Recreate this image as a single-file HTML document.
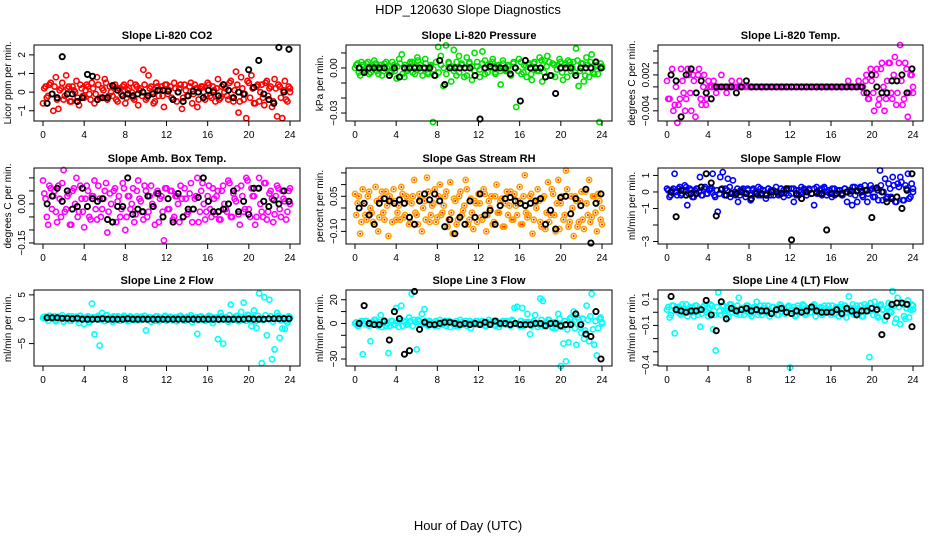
<!DOCTYPE html>
<html><head><meta charset="utf-8"><style>
html,body{margin:0;padding:0;background:#fff;}
svg{display:block;font-family:"Liberation Sans",Arial,sans-serif;}
</style></head><body>
<svg id="fig" width="936" height="540" viewBox="0 0 936 540">
<text x="468" y="14" text-anchor="middle" font-size="13">HDP_120630  Slope Diagnostics</text>
<text x="468" y="530" text-anchor="middle" font-size="13">Hour of Day (UTC)</text>
</svg>
<script>
const xTicks=[0,4,8,12,16,20,24];
const co2Color=[-0.6,0.3,-0.2,0.5,-1,0.8,-0.9,0.2,-0.4,0.9,0.3,-0.5,0.1,0.6,-0.7,0.2,-0.3,0.4,-0.1,0.5,-0.6,0.8,-0.3,0.2,0.7,-0.4,0.3,-0.2,0.4,-0.5,0.2,0.3,-0.6,0.1,0.5,-0.3,0.4,-0.7,0.2,1.2,-0.4,0.9,0.3,-0.6,0.5,-0.2,0.3,-0.8,0.4,0.1,-0.3,0.5,-0.5,0.2,-0.9,0.4,-0.2,0.3,-0.6,0.4,-0.8,0.2,0.3,-0.4,0.5,-0.2,0.3,-0.5,0.7,-0.3,0.4,0.2,-0.4,0.6,-0.5,1.1,-1.1,0.8,-0.4,-1.4,0.5,0.9,-0.6,0.3,-0.5,0.4,-0.7,0.6,0.2,-0.8,0.7,-1.3,0.3,-1.4,0.6,-0.5,0.2];
const co2Band=[0.2,-0.3,0.4,-0.1,0.3,-0.4,0.1,0.5,-0.2,0.2,-0.5,0.3,0,-0.3,0.4,-0.2,0.1,0.3,-0.4,0.2,-0.1,0.4,-0.3,0.1,0.5,-0.2,0,0.3,-0.4,0.2,-0.1,0.4,-0.3,0.2,0,-0.4,0.3,0.1,-0.2,0.4,-0.3,0.2,0,-0.5,0.3,0.1,-0.2,0.4,-0.1,0.3,-0.4,0.2,0,0.4,-0.3,0.1,-0.2,0.5,-0.1,0.2,-0.4,0.3,0,-0.2,0.4,-0.3,0.1,0.2,-0.4,0.3,0,-0.2,0.5,-0.3,0.1,0.4,-0.5,0.2,-0.1,0.6,-0.3,0.2,-0.6,0.4,0,-0.3,0.5,-0.2,0.3,-0.5,0.2,0.4,-0.3,0.1,-0.4,0.3,0];
const co2Black=[-0.6,-0.1,-0.3,1.9,-0.1,-0.1,-0.5,-0.3,0.95,0.85,-0.4,-0.3,-0.3,0.35,0.1,-0.2,-0.1,-0.2,-0.1,0,-0.2,-0.1,0.1,0.1,0.05,-0.4,0,-0.5,-0.2,0.05,0,-0.3,0.1,0,-0.2,0.4,0.1,-0.3,0,-0.1,1.2,0.25,1.7,-0.1,-0.4,-0.6,2.4,0,2.3];
const presColor=[0,0.003,-0.005,0.002,-0.002,0.004,-0.003,0.001,0.003,-0.004,0.002,-0.002,0.004,0.001,-0.003,0.002,-0.007,0.006,0.009,-0.006,-0.002,0.003,0.004,-0.004,0.007,0.002,-0.005,0.006,-0.003,0.001,-0.036,-0.005,0.014,0.008,-0.012,0.015,0.004,-0.009,0.012,-0.005,0.008,0.003,-0.006,0.007,0.004,-0.008,0.01,0.001,-0.006,0.011,0.005,-0.003,0.003,0.006,-0.004,0.002,-0.011,0.003,-0.002,0.001,-0.005,0.004,-0.026,0.006,-0.004,0.002,-0.006,0.003,-0.008,0.004,-0.002,0.007,-0.009,0.005,0.008,-0.005,0.003,-0.006,0.002,0.004,-0.008,0.003,0.005,-0.002,0.004,0.013,-0.012,0.003,-0.009,0.007,-0.006,0.009,-0.004,0.002,-0.036,0.001];
const presBand=[0.002,-0.003,0.004,-0.001,0.003,-0.004,0.001,0.005,-0.002,0.002,-0.005,0.003,0,-0.003,0.004,-0.002,0.001,0.003,-0.004,0.002,-0.001,0.004,-0.003,0.001,0.005,-0.002,0,0.003,-0.004,0.002,-0.001,0.004,-0.003,0.002,0,-0.004,0.003,0.001,-0.002,0.004,-0.003,0.002,0,-0.005,0.003,0.001,-0.002,0.004,-0.001,0.003,-0.004,0.002,0,0.004,-0.003,0.001,-0.002,0.005,-0.001,0.002,-0.004,0.003,0,-0.002,0.004,-0.003,0.001,0.002,-0.004,0.003,0,-0.002,0.005,-0.003,0.001,0.004,-0.005,0.002,-0.001,0.006,-0.003,0.002,-0.006,0.004,0,-0.003,0.005,-0.002,0.003,-0.005,0.002,0.004,-0.003,0.001,-0.004,0.003,0];
const presBlack=[0,-0.003,0,0,0,0,-0.005,0,-0.006,0,0,0,0,0,0,-0.005,0.005,-0.011,0,0,0,0,0,-0.005,-0.034,0,0.001,0,0,0,-0.004,0,-0.022,0.005,0,0,0,-0.006,-0.005,-0.017,0,0,0,-0.005,0,0,0,0.004,0];
const tempColor=[0.001,-0.002,0.003,-0.003,-0.006,-0.002,0.001,-0.004,0.003,-0.001,0.002,-0.005,0.002,-0.002,0,-0.003,0.001,0,0.001,-0.001,0,0.002,0,-0.001,0,0.001,0,0,0.001,0,0,0,0,0,0,0,0,0,0,0,0,0,0,0,0,0,0,0,0,0,0,0,0,0,0,0,0,0,0,0,0,0,0,0,0,0,0,0,0,0,0.001,0,0,0,0.001,0,-0.001,0.002,-0.002,0.001,-0.004,0.003,-0.002,0.004,-0.004,0.001,0.004,-0.002,0.005,-0.001,0.007,-0.003,0.004,-0.005,0.002,-0.001];
const tempBand=[-0.002,0.002,-0.004,0,-0.003,0.003,-0.001,-0.002,0.002,-0.004,0.001,-0.001,0.003,-0.003,0.002,-0.002,0,0,0,0,0,0,0,0,0,0,0,0,0,0,0,0,0,0,0,0,0,0,0,0,0,0,0,0,0,0,0,0,0,0,0,0,0,0,0,0,0,0,0,0,0,0,0,0,0,0,0,0,0,0,0,0,0,0,0,0,0,0.001,-0.002,0.003,-0.001,0.002,-0.003,0.003,0,-0.002,0.004,-0.001,0.002,-0.003,0.004,0.001,-0.002,0.003,-0.001,0.002,0];
const tempBlack=[0.002,0.001,-0.005,0.002,0.003,-0.001,0.001,-0.001,-0.002,0,0,0,0,-0.001,0,0.001,0,0,0,0,0,0,0,0,0,0,0,0,0,0,0,0,0,0,0,0,0,0,0,-0.001,0.002,0,-0.001,-0.001,0.001,0.001,0.002,-0.001,0.003];
const ambColor=[0.09,0.02,-0.08,0.06,0.03,-0.03,0.07,-0.05,0.13,-0.02,0.04,-0.08,0.06,0.1,-0.03,0.02,-0.09,0.07,-0.05,0.03,0.09,-0.06,0.02,-0.02,0.05,-0.11,0.04,-0.07,0.06,0.01,-0.05,0.08,-0.1,0.03,-0.02,0.06,-0.04,0.09,0.01,-0.06,0.05,-0.03,0.07,-0.01,0.04,-0.07,0.03,-0.14,0.06,-0.02,0.05,-0.05,0.03,-0.07,0.02,0.06,-0.04,0.04,-0.07,0.02,0.1,-0.03,0.08,-0.06,0.03,-0.02,0.06,-0.04,0.05,-0.06,0.07,-0.02,0.09,-0.05,0.04,0.01,-0.04,0.07,-0.03,0.1,-0.02,0.06,0.03,-0.05,0.1,-0.03,0.08,-0.06,0.04,0.02,-0.04,0.07,-0.02,0.05,0.01,-0.03,0.06];
const ambBand=[0.04,-0.05,0.07,-0.02,0.05,-0.07,0.02,0.08,-0.03,0.03,-0.08,0.05,0,-0.05,0.07,-0.03,0.02,0.05,-0.06,0.03,-0.02,0.07,-0.05,0.02,0.08,-0.03,0,0.05,-0.07,0.03,-0.02,0.06,-0.05,0.03,0,-0.07,0.05,0.02,-0.03,0.07,-0.05,0.03,0,-0.08,0.05,0.02,-0.03,0.06,-0.02,0.05,-0.06,0.03,0,0.07,-0.05,0.02,-0.03,0.08,-0.02,0.03,-0.07,0.05,0,-0.03,0.07,-0.05,0.02,0.03,-0.06,0.05,0,-0.03,0.08,-0.05,0.02,0.06,-0.08,0.03,-0.02,0.09,-0.05,0.03,-0.08,0.06,0,-0.05,0.08,-0.03,0.05,-0.07,0.03,0.06,-0.05,0.02,-0.06,0.05,0];
const ambBlack=[0,0.03,0.06,0.01,0.05,-0.02,-0.01,0.06,-0.01,0.02,0.01,0.02,-0.06,-0.07,-0.01,-0.01,0.1,-0.04,-0.02,-0.03,0.03,-0.01,0.04,-0.05,0.02,-0.07,0.04,-0.05,-0.02,-0.02,0.025,0.1,0.01,-0.03,-0.03,-0.02,0,0.05,-0.03,0.01,-0.04,0.06,0.06,0.01,-0.01,0.015,0,0.05,0.01];
const rhColor=[0.06,0.02,-0.11,0.08,-0.03,0.05,0,-0.06,0.09,-0.1,0.04,-0.02,0.07,-0.12,0.03,0.08,-0.05,0.01,0.09,-0.04,0.05,-0.07,0.02,0.12,-0.03,0.06,-0.1,0.03,0.13,-0.06,0.01,0.08,-0.04,0.1,-0.02,0.05,-0.08,0.11,-0.11,0.03,-0.05,0.07,-0.01,0.12,-0.07,0.04,-0.09,0.02,0.06,-0.04,0.08,-0.1,0.03,0.05,-0.06,0.1,-0.02,0.04,-0.08,0.07,0.01,-0.05,0.06,-0.03,0.09,-0.07,0.14,-0.04,0.05,-0.11,0.02,0.08,-0.06,0.04,-0.09,0.11,-0.03,0.06,-0.1,0.12,0.02,-0.05,0.16,-0.08,0.05,-0.12,0.03,-0.06,0.07,-0.09,0.02,0.12,-0.04,0.05,-0.1,0.03,-0.07];
const rhBand=[-0.03,0.05,-0.06,0.02,-0.05,0.07,-0.02,-0.07,0.03,-0.04,0.07,-0.05,0.01,0.05,-0.06,0.03,-0.02,-0.05,0.06,-0.03,0.03,-0.06,0.05,-0.02,-0.07,0.04,0,-0.05,0.07,-0.03,0.02,-0.06,0.05,-0.03,0.01,0.07,-0.05,-0.02,0.04,-0.07,0.05,-0.03,0.01,0.08,-0.05,-0.02,0.03,-0.06,0.02,-0.05,0.06,-0.03,0,-0.07,0.05,-0.02,0.03,-0.08,0.02,-0.03,0.07,-0.05,0.01,0.03,-0.07,0.05,-0.02,-0.03,0.06,-0.05,0,0.03,-0.08,0.05,-0.02,-0.06,0.08,-0.03,0.02,-0.09,0.05,-0.03,0.08,-0.06,0,0.05,-0.08,0.03,-0.05,0.07,-0.03,-0.06,0.05,-0.02,0.06,-0.05,0];
const rhBlack=[0,0.02,-0.03,-0.07,0.02,0.04,0.03,0.02,0.035,0.02,-0.04,-0.07,0.03,0.06,0.035,0.06,0.03,-0.08,-0.05,-0.11,-0.04,-0.07,0.03,-0.04,0.06,-0.03,-0.01,-0.07,0.01,0.04,0.045,0.03,0.02,0.01,0.02,0.03,0.04,-0.07,-0.01,-0.09,0.045,0.05,-0.025,0.04,0.01,0.08,-0.15,0.02,0.06];
const flowColor=[0.2,-0.3,0.1,1.1,-0.2,0.3,-0.1,0.4,-0.8,0.2,-0.3,0.1,0.2,0.9,-0.2,0.3,-0.1,0.2,1.1,-0.3,-1.2,0.9,1.2,0.2,0.8,-0.3,0.7,-0.2,-0.6,0.1,0.2,-0.3,0.1,-0.5,0.2,-0.1,0.3,-0.2,0.1,-0.4,0.2,0.1,-0.2,0.3,-0.1,0.2,-0.3,0.1,-0.2,0.2,-0.6,0.1,-0.2,0.3,0.1,-0.2,0.2,-0.1,-0.8,0.3,-0.1,0.2,0.3,-0.2,0.1,-0.3,0.2,-0.1,0.1,-0.2,0.2,-0.6,0.1,-0.8,0.3,-0.6,0.2,-0.2,0.4,-0.6,0.1,0.2,-0.3,0.1,1.3,-0.5,0.8,-0.3,0.2,0.9,-0.6,0.5,0.9,-0.5,0.4,1.1,-0.3,0.2];
const flowBand=[0.1,-0.2,0.2,0,0.2,-0.2,0.1,0.3,-0.1,0.1,-0.3,0.2,0,-0.2,0.2,-0.1,0.1,0.2,-0.2,0.1,-0.1,0.2,-0.2,0.1,0.3,-0.1,0,0.2,-0.2,0.1,-0.1,0.2,-0.2,0.1,0,-0.2,0.2,0.1,-0.1,0.2,-0.2,0.1,0,-0.2,0.2,0.1,-0.1,0.2,-0.1,0.2,-0.2,0.1,0,0.2,-0.2,0.1,-0.1,0.2,-0.1,0.1,-0.2,0.2,0,-0.1,0.2,-0.2,0.1,0.1,-0.2,0.2,0,-0.1,0.3,-0.2,0.1,0.3,-0.3,0.1,-0.1,0.4,-0.3,0.2,-0.5,0.4,0,-0.4,0.5,-0.3,0.4,-0.6,0.3,0.6,-0.5,0.2,-0.4,0.5,0];
const flowBlack=[0,-1.5,0.1,-0.2,-0.1,-0.1,0.3,1.1,0.55,-1.45,0.15,-0.2,-0.1,-0.1,0,-0.1,-0.4,-0.1,-0.1,-0.2,0,0,-0.1,0.2,-2.9,-0.1,-0.4,0,-0.1,0,-0.1,-2.3,-0.1,-0.1,-0.1,0,0.05,0.05,0.05,0.1,-1.55,0.25,0,-0.6,-0.4,-0.3,-1.0,0.1,1.1];
const line2Color=[0.3,0.5,-0.3,0.6,0.2,-0.4,0.5,0.3,-0.5,0.4,0.6,-0.3,0.2,0.5,-0.8,0.3,-1,0.4,-0.6,3.2,-3.1,0.5,-5.4,1.3,-0.4,0.8,0.2,-0.5,0.4,0.6,-0.3,0.5,0.2,-0.4,0.6,0.3,0.2,-0.2,0.5,0.3,-2.3,0.4,-0.5,0.3,0.6,-0.4,0.2,0.5,-0.3,0.4,0.1,0.3,-0.4,0.6,0.2,-0.3,0.5,0.4,-0.6,0.3,-3,0.5,0.2,-0.3,0.4,0.6,-0.8,0.2,-4.1,1.3,-5,0.4,-0.5,3,0.3,0.6,-0.4,1.5,3.4,-0.3,0.8,-1.4,1.8,-1.8,5.3,-9,4.5,-3.3,4,-8.2,-6.2,1.3,-3.8,-1.9,-2,-0.7,0.4];
const line2Band=[0.5,0.2,0.7,0.1,0.6,-0.2,0.3,0.8,0,0.4,-0.3,0.6,0.2,-0.1,0.7,0.1,0.3,0.6,-0.2,0.4,0.1,0.7,-0.1,0.3,0.8,0,0.2,0.6,-0.2,0.4,0.1,0.7,-0.1,0.4,0.2,-0.2,0.6,0.3,0,0.7,-0.1,0.4,0.2,-0.3,0.6,0.3,0,0.7,0.1,0.5,-0.2,0.4,0.2,0.7,-0.1,0.3,0,0.8,0.1,0.4,-0.2,0.6,0.2,0,0.7,-0.1,0.3,0.4,-0.2,0.6,0.2,0,0.8,-0.1,0.3,0.7,-0.3,0.4,0.1,0.9,-0.1,0.4,-0.4,0.7,0.2,-0.2,0.8,0,0.6,-0.5,0.4,0.7,-0.2,0.3,-0.3,0.6,0.2];
const line2Black=[0.3,0.3,0.3,0.2,0.2,0.1,0.2,0,0,0,0,0.1,0,0,0,0,0.1,0,0,0,0,0,0,0,0,0,0,0,0,0,0,0,0,0,0,0,0,0,0,0,0.1,0,0,0,0.1,0.1,0.1,0.1,0.1];
const line3Color=[0,-2,1,-26,2,-1,-15,1,3,-2,7,1,-2,-25,2,-1,13,-3,15,2,-1,5,25,3,-22,2,8,12,-1,2,0,-2,1,3,-1,2,0,-3,1,-2,0,3,-1,2,0,-4,1,2,-1,0,1,-2,3,0,-1,2,-3,1,0,2,-1,3,13,14,-2,13,1,8,-9,0,7,-3,21,19,-1,3,0,-4,-4,8,-36,-17,-32,-16,5,10,-18,3,-8,-13,15,-15,25,-18,-27,4,1];
const line3Band=[1,-2,2,0,2,-2,1,3,-1,1,-3,2,0,-2,2,-1,1,2,-2,1,-1,2,-2,1,3,-1,0,2,-2,1,-1,2,-2,1,0,-2,2,1,-1,2,-2,1,0,-2,2,1,-1,2,-1,2,-2,1,0,2,-2,1,-1,2,-1,1,-2,2,0,-1,2,-2,1,1,-2,2,0,-1,3,-2,1,3,-3,1,-1,4,-3,2,-5,4,0,-4,5,-3,4,-6,3,6,-5,2,-4,5,0];
const line3Black=[0,15,0,-1,-1,2,-14,10,4,-26,-23,27,-5,1,-1,-1,0,1,1,0,-1,0,-1,0,-1,1,-1,2,0,0,-1,0,-1,-1,-1,0,0,-2,0,0,-2,-1,-1,8,-1,-9,-11,10,-30];
const line4Color=[0.02,-0.04,0.05,-0.16,0.03,-0.01,0.06,0.01,-0.03,0.04,0,0.05,-0.02,-0.11,0.04,0.02,-0.03,0.06,-0.13,-0.29,0.15,-0.02,0.05,0.01,-0.04,0.06,0.02,-0.01,0.11,0.03,-0.02,0.05,0.01,-0.03,0.04,0.08,0,-0.02,0.05,0.02,-0.03,0.04,0.01,-0.02,0.06,0.03,-0.01,0.04,-0.42,0.02,-0.03,0.05,0.01,0.06,-0.02,0.03,0,0.05,-0.03,0.02,0.04,-0.01,0.03,0.05,-0.02,0.01,0.04,-0.03,0.06,0.02,-0.04,0.12,0.03,-0.02,0.05,0.01,-0.03,0.06,0.04,-0.34,0.03,0.08,-0.03,0.05,0.02,-0.06,0.03,0.01,0.16,-0.08,0.11,-0.09,0.06,-0.05,0.09,0.02,0.05];
const line4Band=[0.04,-0.02,0.05,0.01,0.04,-0.02,0.03,0.06,0,0.03,-0.03,0.05,0.02,-0.01,0.05,0,0.03,0.05,-0.02,0.04,0.01,0.05,-0.01,0.03,0.06,0,0.02,0.05,-0.02,0.03,0.01,0.05,-0.01,0.03,0.02,-0.02,0.05,0.03,0,0.05,-0.01,0.04,0.02,-0.02,0.05,0.03,0,0.05,0.01,0.04,-0.02,0.03,0.02,0.05,-0.01,0.03,0,0.06,0.01,0.03,-0.02,0.05,0.02,0,0.05,-0.01,0.03,0.04,-0.02,0.05,0.02,0,0.06,-0.01,0.03,0.05,-0.03,0.03,0.01,0.07,-0.02,0.04,-0.04,0.06,0.02,-0.03,0.07,0,0.05,-0.05,0.04,0.07,-0.03,0.03,-0.04,0.06,0.02];
const line4Black=[0.12,0.02,0.01,0,0.01,0.01,0.02,0.09,-0.02,-0.14,0.08,-0.05,0.03,0.01,0.02,0.03,0.01,0.02,0.01,0.01,-0.01,0.02,0.03,0,-0.01,0.01,0,0.01,0.04,0.01,0,0,0,0.02,-0.01,0.03,0.01,-0.02,0.01,0.01,0.03,0.02,-0.17,-0.03,0.06,0.07,0.07,0.06,-0.11];

const NS="http://www.w3.org/2000/svg";
const svg=document.getElementById('fig');
function mk(tag,attrs,parent){const e=document.createElementNS(NS,tag);for(const k in attrs)e.setAttribute(k,attrs[k]);(parent||svg).appendChild(e);return e;}
const cols=[{l:34,r:300},{l:346,r:612},{l:658,r:923}];
const rows=[{t:45,b:121},{t:168,b:244},{t:290,b:366}];
const panels=[
 {name:'co2',title:'Slope Li-820 CO2',yl:'Licor ppm per min.',col:0,row:0,ymin:-1.55,ymax:2.53,ticks:[2,1,0,-1],labels:['2','1','0','−1'],c:co2Color,c2:co2Band,k:co2Black,color:'#ff0000'},
 {name:'pressure',title:'Slope Li-820 Pressure',yl:'kPa per min.',col:1,row:0,ymin:-0.0353,ymax:0.0153,ticks:[0.01,0,-0.01,-0.02,-0.03],labels:['','0.00','','','−0.03'],c:presColor,c2:presBand,k:presBlack,color:'#00e000'},
 {name:'temp',title:'Slope Li-820 Temp.',yl:'degrees C per min.',col:2,row:0,ymin:-0.0057,ymax:0.007,ticks:[0.006,0.004,0.002,0,-0.002,-0.004],labels:['','','0.002','','','−0.004'],c:tempColor,c2:tempBand,k:tempBlack,color:'#ff00ff'},
 {name:'amb-box-temp',title:'Slope Amb. Box Temp.',yl:'degrees C per min.',col:0,row:1,ymin:-0.154,ymax:0.138,ticks:[0.1,0.05,0,-0.05,-0.1,-0.15],labels:['','','0.00','','','−0.15'],c:ambColor,c2:ambBand,k:ambBlack,color:'#ff00ff'},
 {name:'gas-rh',title:'Slope Gas Stream RH',yl:'percent per min.',col:1,row:1,ymin:-0.154,ymax:0.171,ticks:[0.15,0.1,0.05,0,-0.05,-0.1],labels:['','','0.05','','','−0.10'],c:rhColor,c2:rhBand,k:rhBlack,color:'#ffa000'},
 {name:'sample-flow',title:'Slope Sample Flow',yl:'ml/min per min.',col:2,row:1,ymin:-3.15,ymax:1.45,ticks:[1,0,-1,-2,-3],labels:['1','0','−1','','−3'],c:flowColor,c2:flowBand,k:flowBlack,color:'#0000ff'},
 {name:'line2-flow',title:'Slope Line 2 Flow',yl:'ml/min per min.',col:0,row:2,ymin:-9.6,ymax:6,ticks:[5,0,-5],labels:['5','0','−5'],c:line2Color,c2:line2Band,k:line2Black,color:'#00ffff'},
 {name:'line3-flow',title:'Slope Line 3 Flow',yl:'ml/min per min.',col:1,row:2,ymin:-35.9,ymax:28.2,ticks:[20,10,0,-10,-20,-30],labels:['20','','0','','','−30'],c:line3Color,c2:line3Band,k:line3Black,color:'#00ffff'},
 {name:'line4-flow',title:'Slope Line 4 (LT) Flow',yl:'ml/min per min.',col:2,row:2,ymin:-0.408,ymax:0.169,ticks:[0.1,0,-0.1,-0.2,-0.3,-0.4],labels:['0.1','','−0.1','','','−0.4'],c:line4Color,c2:line4Band,k:line4Black,color:'#00ffff'}
];
panels.forEach(p=>{
 const C=cols[p.col],R=rows[p.row];
 const x0=C.l+9,x1=C.r-10;
 const xs=v=>x0+(x1-x0)*v/24;
 const ys=v=>R.b-(R.b-R.t)*(v-p.ymin)/(p.ymax-p.ymin);
 const g=mk('g',{});
 
 
 const t=mk('text',{x:(C.l+C.r)/2,y:R.t-6,'text-anchor':'middle','font-size':'11','font-weight':'bold'},g);
 t.textContent=p.title;
 
 
 const yl=mk('text',{transform:`translate(${C.l-23},${(R.t+R.b)/2}) rotate(-90)`,'text-anchor':'middle','font-size':'10'},g);
 yl.textContent=p.yl;
 
 
 const pts=mk('g',{fill:'none','stroke-width':'1.6'},g);
 
 
 const drawSet=(arr,off)=>arr.forEach((v,i)=>{
  const cx=xs(Math.min(24,i*24/(arr.length-1)+off)),cy=ys(v);
  const c=mk('circle',{cx:cx,cy:cy,r:2.6,stroke:p.color},pts);
  
  
  if(p.name==='gas-rh'){const d=mk('circle',{cx:cx,cy:cy,r:1,fill:'#ff2000',stroke:'none'},pts);
   
   }
 });
 drawSet(p.c2,0.12);
 drawSet(p.c,0);
 const bk=mk('g',{fill:'none','stroke-width':'1.9',stroke:'#000'},g);
 
 
 p.k.forEach((v,i)=>{const c=mk('circle',{cx:xs(0.4+i*23.5/(p.k.length-1)),cy:ys(v),r:2.6},bk);
  
  });
 const box=mk('rect',{x:C.l,y:R.t,width:C.r-C.l,height:R.b-R.t,fill:'none',stroke:'#000','stroke-width':'1'},g);
 
 
 p.ticks.forEach((v,i)=>{const y=ys(v);
  const tk=mk('line',{x1:C.l-5,x2:C.l,y1:y,y2:y,stroke:'#000'},g);
  
  
  if(p.labels[i]){const tl=mk('text',{transform:`translate(${C.l-9},${y}) rotate(-90)`,'text-anchor':'middle','font-size':'10'},g);
   tl.textContent=p.labels[i];
   
   }
 });
 xTicks.forEach(v=>{const x=xs(v);
  const tk=mk('line',{x1:x,x2:x,y1:R.b,y2:R.b+5,stroke:'#000'},g);
  
  
  const tl=mk('text',{x:x,y:R.b+17,'text-anchor':'middle','font-size':'10'},g);
  tl.textContent=String(v);
  
  
 });
});
</script>
</body></html>
